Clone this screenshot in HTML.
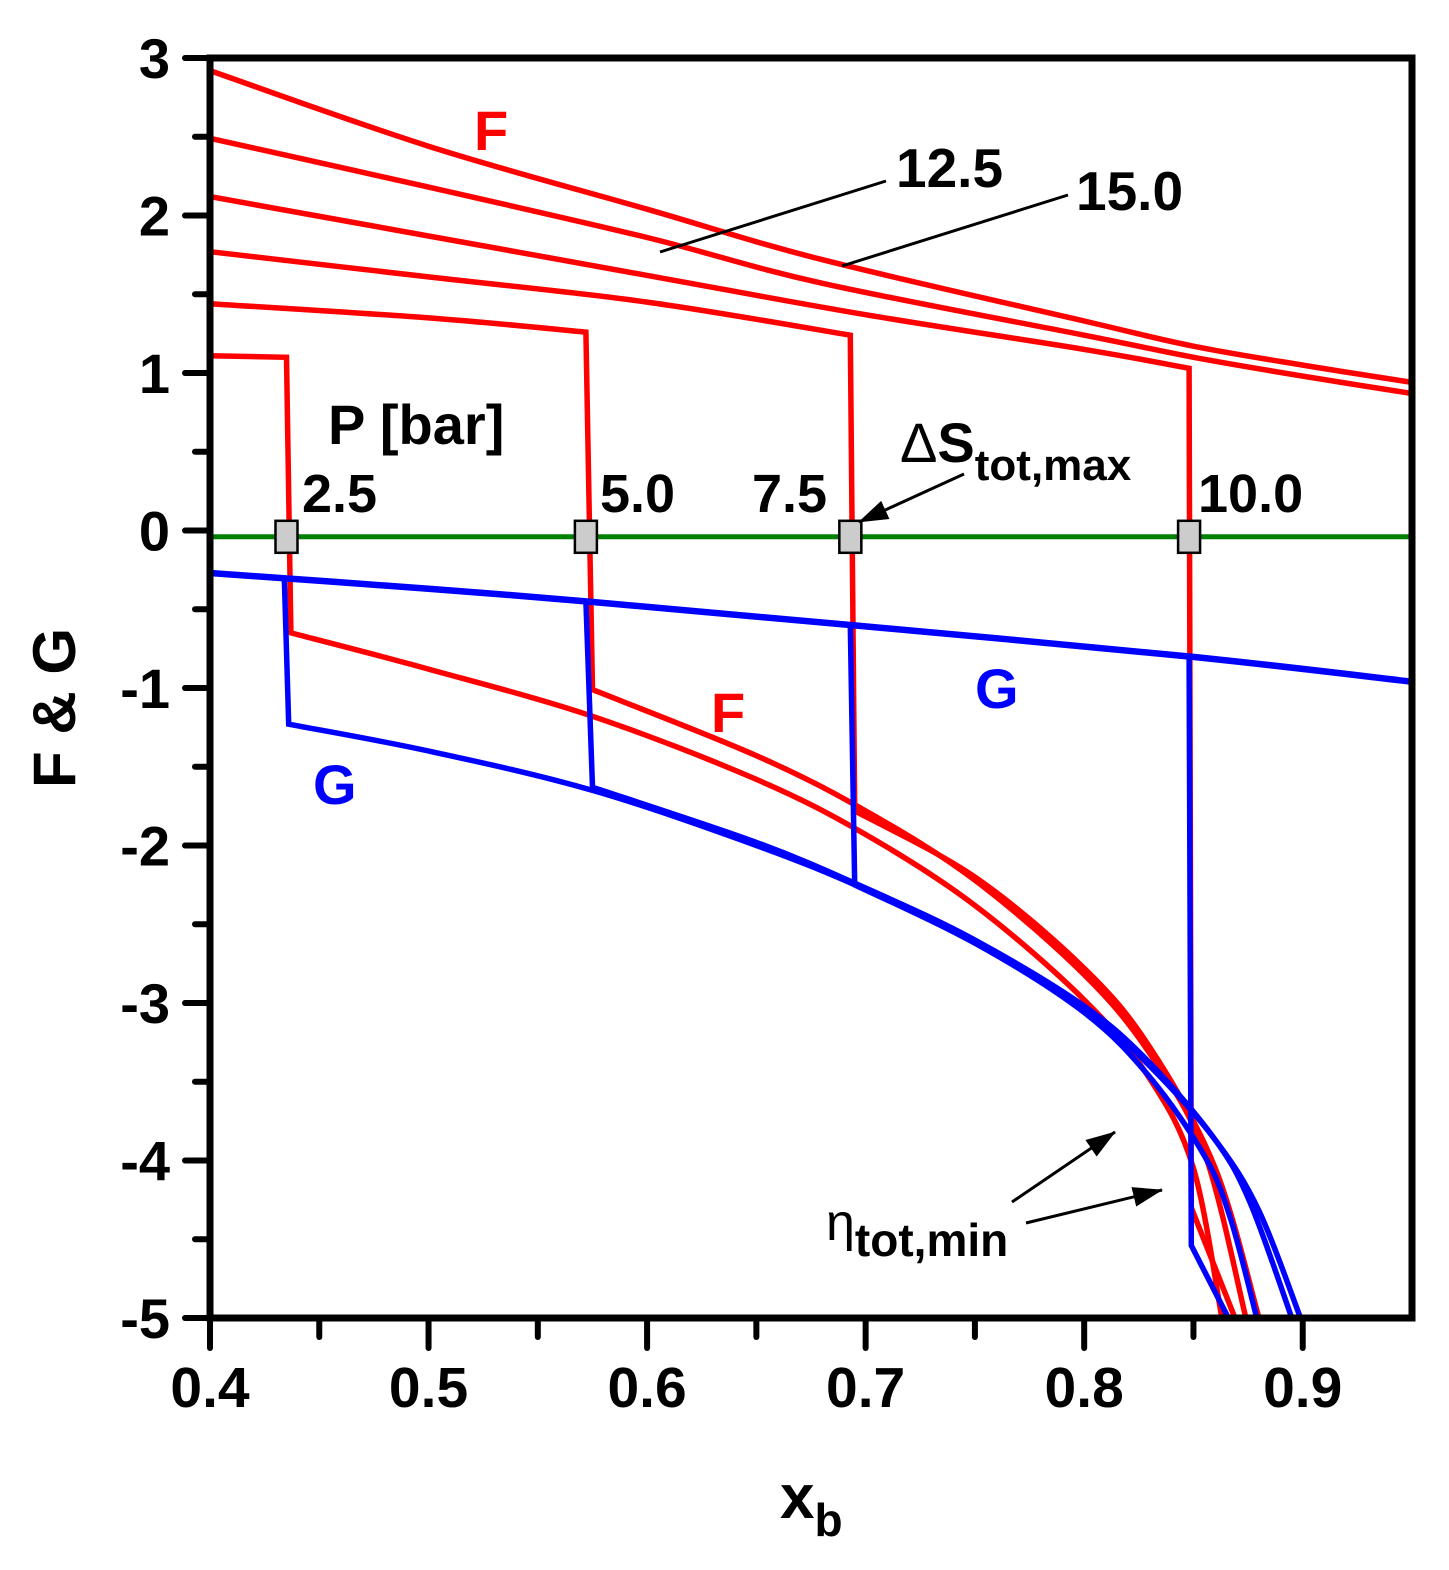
<!DOCTYPE html>
<html><head><meta charset="utf-8"><style>
html,body{margin:0;padding:0;background:#fff;}
svg{display:block;font-family:"Liberation Sans",Arial,sans-serif;font-weight:bold;}
</style></head><body>
<svg id="chart" width="1449" height="1570" viewBox="0 0 1449 1570" xmlns="http://www.w3.org/2000/svg">
<g id="series"></g>
<g id="axes"></g>
</svg>
<script>
const xTicks=[0.4,0.5,0.6,0.7,0.8,0.9];
const yTicks=[3,2,1,0,-1,-2,-3,-4,-5];
const pressures=["2.5","5.0","7.5","10.0","12.5","15.0"];
const switchX=[0.435,0.572,0.693,0.848];
const optY=-0.04;
// F curves [x,y]
const F25=[[0.4,1.11],[0.435,1.10],[0.437,-0.65],[0.5,-0.88],[0.575,-1.18],[0.65,-1.58],[0.7,-1.93],[0.75,-2.38],[0.8,-2.98],[0.83,-3.48],[0.85,-4.05],[0.863,-5]];
const F50=[[0.4,1.44],[0.5,1.35],[0.572,1.26],[0.575,-1.01],[0.65,-1.43],[0.7,-1.78],[0.75,-2.22],[0.8,-2.82],[0.83,-3.32],[0.855,-3.95],[0.874,-5]];
const F75=[[0.4,1.77],[0.5,1.61],[0.6,1.45],[0.693,1.24],[0.695,-1.78],[0.75,-2.2],[0.8,-2.78],[0.83,-3.28],[0.86,-4.05],[0.88,-5]];
const F100=[[0.4,2.12],[0.5,1.87],[0.6,1.62],[0.7,1.37],[0.8,1.15],[0.848,1.03],[0.849,-4.3],[0.869,-5]];
const F125=[[0.4,2.49],[0.5,2.18],[0.6,1.86],[0.68,1.57],[0.8,1.24],[0.85,1.10],[0.9,0.98],[0.95,0.87]];
const F150=[[0.4,2.92],[0.5,2.44],[0.6,2.04],[0.68,1.72],[0.8,1.33],[0.85,1.17],[0.9,1.05],[0.95,0.94]];
// G curves
const GUp=[[0.4,-0.27],[0.5,-0.37],[0.572,-0.45],[0.693,-0.60],[0.848,-0.80],[0.95,-0.96]];
const G25=[[0.434,-0.30],[0.436,-1.23],[0.5,-1.40],[0.575,-1.65],[0.65,-2.0],[0.7,-2.28],[0.75,-2.62],[0.8,-3.03],[0.83,-3.4],[0.86,-3.87],[0.88,-4.32],[0.899,-5]];
const G50=[[0.572,-0.45],[0.575,-1.63],[0.65,-1.98],[0.7,-2.27],[0.75,-2.6],[0.8,-3.02],[0.83,-3.38],[0.86,-3.87],[0.876,-4.27],[0.895,-5]];
const G75=[[0.693,-0.60],[0.695,-2.25],[0.75,-2.62],[0.8,-3.06],[0.83,-3.47],[0.855,-3.97],[0.867,-4.37],[0.879,-5]];
const G100=[[0.848,-0.80],[0.849,-4.54],[0.866,-5]];

const X0=210,X1=1412,Y0=58,Y1=1318;
const xs=v=>X0+(v-0.4)/(0.55)*(X1-X0);
const ys=v=>Y0+(3-v)/8*(Y1-Y0);
const NS="http://www.w3.org/2000/svg";
function mk(tag,attrs,parent){const e=document.createElementNS(NS,tag);for(const k in attrs)e.setAttribute(k,attrs[k]);document.getElementById(parent).appendChild(e);return e;}
function pathD(pts){
  const P=pts.map(p=>[xs(p[0]),ys(p[1])]);
  const brk=i=>Math.abs(pts[i+1][0]-pts[i][0])<0.005;
  let d='M'+P[0][0].toFixed(1)+','+P[0][1].toFixed(1);
  for(let i=0;i<P.length-1;i++){
    if(brk(i)){d+=' L'+P[i+1][0].toFixed(1)+','+P[i+1][1].toFixed(1);continue;}
    const p0=(i>0&&!brk(i-1))?P[i-1]:P[i];
    const p3=(i+2<P.length&&!brk(i+1))?P[i+2]:P[i+1];
    const p1=P[i],p2=P[i+1];
    const c1=[p1[0]+(p2[0]-p0[0])/6,p1[1]+(p2[1]-p0[1])/6];
    const c2=[p2[0]-(p3[0]-p1[0])/6,p2[1]-(p3[1]-p1[1])/6];
    d+=' C'+c1.map(v=>v.toFixed(1)).join(',')+' '+c2.map(v=>v.toFixed(1)).join(',')+' '+p2[0].toFixed(1)+','+p2[1].toFixed(1);
  }
  return d;
}
function line(pts,color,w,name){
  const el=mk('path',{d:pathD(pts),fill:'none',stroke:color,'stroke-width':w,'stroke-linejoin':'miter'},'series');
  
  
}
const fS=[F25,F50,F75,F100,F125,F150];
fS.forEach((s,i)=>line(s,'#ff0000',5.5,'f-curve-'+pressures[i]));
line(GUp,'#0000ff',6.5,'g-curve-upper');
[G25,G50,G75,G100].forEach((s,i)=>line(s,'#0000ff',5.5,'g-curve-'+pressures[i]));
{const el=mk('line',{x1:X0,x2:X1,y1:ys(optY),y2:ys(optY),stroke:'#008000','stroke-width':5},'series');

}
switchX.forEach((v,i)=>{const el=mk('rect',{x:xs(v)-11,y:ys(optY)-16,width:22,height:32,fill:'#cccccc',stroke:'#000','stroke-width':2.5},'series');

});
{const el=mk('rect',{x:X0,y:Y0,width:X1-X0,height:Y1-Y0,fill:'none',stroke:'#000','stroke-width':7},'axes');

}
xTicks.forEach(v=>{mk('line',{x1:xs(v),x2:xs(v),y1:Y1,y2:Y1+30,stroke:'#000','stroke-width':6,'stroke-linecap':'round'},'axes');
const t=mk('text',{x:xs(v),y:1407,'text-anchor':'middle','font-size':57},'axes');t.textContent=v.toFixed(1);


if(v<0.9)mk('line',{x1:xs(v+0.05),x2:xs(v+0.05),y1:Y1,y2:Y1+19,stroke:'#000','stroke-width':6,'stroke-linecap':'round'},'axes');});
yTicks.forEach(v=>{mk('line',{x1:X0,x2:X0-25,y1:ys(v),y2:ys(v),stroke:'#000','stroke-width':6,'stroke-linecap':'round'},'axes');
const t=mk('text',{x:170,y:ys(v)+20,'text-anchor':'end','font-size':56},'axes');t.textContent=String(v);


if(v>-5)mk('line',{x1:X0,x2:X0-15,y1:ys(v-0.5),y2:ys(v-0.5),stroke:'#000','stroke-width':6,'stroke-linecap':'round'},'axes');});
</script>
<svg style="position:absolute;left:0;top:0" width="1449" height="1570" xmlns="http://www.w3.org/2000/svg" font-family="Liberation Sans, Arial, sans-serif" font-weight="bold">
<defs><marker id="a2" markerWidth="30" markerHeight="20" refX="29" refY="10" orient="auto" markerUnits="userSpaceOnUse" viewBox="0 0 30 20"><path d="M0,0 L30,10 L0,20 z" fill="#000"/></marker></defs>
<text x="780" y="1518" font-size="62">x<tspan font-size="46" dy="18">b</tspan></text>
<text transform="translate(75,708) rotate(-90)" text-anchor="middle" font-size="60">F &amp; G</text>
<text x="474" y="150" font-size="56" fill="#ff0000">F</text>
<text x="711" y="732" font-size="56" fill="#ff0000">F</text>
<text x="975" y="708" font-size="56" fill="#0000ff">G</text>
<text x="313" y="804" font-size="56" fill="#0000ff">G</text>
<text x="328" y="444" font-size="56">P [bar]</text>
<text x="302" y="512" font-size="54">2.5</text>
<text x="600" y="512" font-size="54">5.0</text>
<text x="752" y="512" font-size="54">7.5</text>
<text x="1198" y="512" font-size="54">10.0</text>
<text x="896" y="187" font-size="55">12.5</text>
<text x="1076" y="210" font-size="55">15.0</text>
<line x1="886" y1="181" x2="660" y2="252" stroke="#000" stroke-width="3"/>
<line x1="1068" y1="195" x2="842" y2="266" stroke="#000" stroke-width="3"/>
<text x="900" y="462" font-size="56"><tspan font-weight="normal">Δ</tspan>S<tspan font-size="44" dy="18">tot,max</tspan></text>
<line x1="964" y1="474" x2="859" y2="522" stroke="#000" stroke-width="3" marker-end="url(#a2)"/>
<text x="826" y="1240" font-size="52"><tspan font-weight="normal">η</tspan><tspan font-size="46" dy="16">tot,min</tspan></text>
<line x1="1012" y1="1202" x2="1115" y2="1132" stroke="#000" stroke-width="3" marker-end="url(#a2)"/>
<line x1="1026" y1="1223" x2="1162" y2="1190" stroke="#000" stroke-width="3" marker-end="url(#a2)"/>
</svg>
</body></html>
